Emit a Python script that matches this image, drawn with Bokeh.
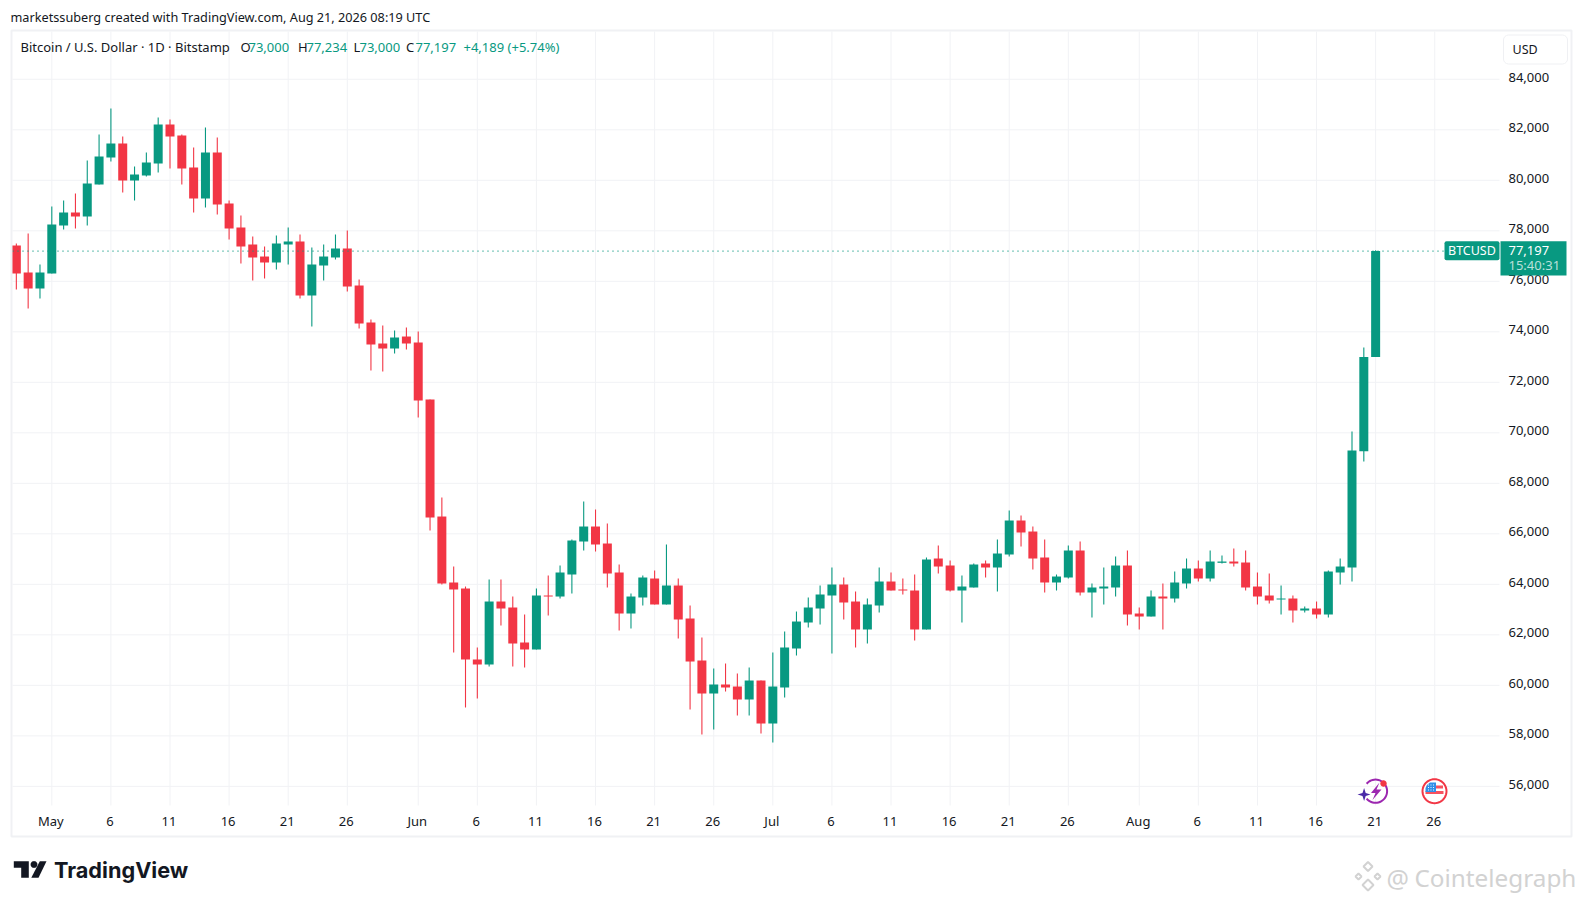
import numpy as np
from bokeh.embed import file_html
from bokeh.resources import INLINE
from bokeh.plotting import figure
from bokeh.models import (ColumnDataSource, FixedTicker, Label, BoxAnnotation, PolyAnnotation, Range1d)

# Day index: 0 = 1 May
days = list(range(-3, 113))
opens = [77420,76350,75720,76310,78210,78725,78566,79834,80903,81457,79992,80190,80665,82210,81774,80507,79279,81101,79081,78131,77458,76982,76745,77458,77576,75438,76626,76943,77299,75834,74369,73537,73339,73814,73577,71320,66686,64073,63835,61024,60826,63320,63083,61697,61420,63558,63518,64390,65696,66290,65617,64469,62845,63479,64231,63202,63954,62647,60984,59677,60034,59954,59440,60192,58489,59915,61459,62489,63043,63558,63994,63320,62212,63162,64112,63796,63756,62212,65023,64746,63756,63875,64825,64667,65182,66528,66092,65063,64073,64271,65340,63677,63835,63875,64746,62845,62726,63518,63439,64033,64627,64231,64852,64904,64865,63914,63558,63400,63439,62964,63043,62806,64469,64667,69274,73000]
highs = [77500,77890,76670,78960,79200,79477,80784,81814,82843,81734,80546,81101,82487,82408,81814,81299,82091,81695,79200,78606,77774,77378,77814,78131,77854,77339,77458,77854,78012,76072,74488,74250,74052,74171,74012,71320,67439,64706,63914,61499,64192,64192,63518,62806,63835,64350,64746,65776,67280,66964,66409,64786,63637,64350,64548,65578,64231,63162,61895,60667,60865,60469,60707,60192,61301,62132,62924,63479,63954,64667,64271,63716,63439,64667,64469,64231,64390,65063,65538,64944,64350,64825,64944,65776,66924,66726,66290,65776,64390,65538,65696,64033,64667,65102,65340,63083,63756,64033,64508,65023,64944,65340,65142,65419,65340,64469,64429,63954,63558,63122,63320,64548,65023,70052,73379,77234]
lows = [75680,74920,75320,76310,78050,78091,78210,79834,80744,79517,79200,80150,80309,80467,79834,78725,78923,78646,77656,76705,76032,76111,76468,76666,75319,74210,76032,76864,75596,74131,72468,72428,73141,73300,70607,66132,63994,61301,59123,59479,60746,62370,60746,60707,61420,62766,63439,63637,65340,65300,63875,62172,62251,63162,63202,63202,61855,59044,58054,58252,59756,58806,58806,58093,57737,59519,61182,62291,62410,61261,62608,61499,61657,62885,63756,63598,61776,62212,64429,63716,62489,63875,64271,63716,65102,65498,64588,63677,63756,64231,63558,62687,63202,63518,62370,62212,62726,62212,63281,63835,64112,64112,64825,64706,63756,63202,63241,62806,62489,62885,62647,62687,63994,64112,68860,73000]
closes = [76310,75720,76350,78250,78725,78566,79873,80942,81457,79992,80230,80705,82210,81734,80467,79279,81101,79042,78091,77378,76943,76745,77497,77576,75438,76666,76982,77299,75794,74329,73498,73339,73775,73537,71280,66647,64033,63796,61024,60826,63320,63043,61657,61420,63558,63518,64469,65736,66290,65578,64429,62845,63518,64271,63202,63954,62608,60944,59677,60034,59915,59440,60192,58489,59954,61499,62528,63083,63598,63994,63281,62212,63202,64112,63756,63756,62212,64984,64706,63756,63914,64786,64667,65221,66528,66053,65023,64073,64310,65340,63677,63875,63914,64746,62806,62726,63518,63439,64073,64627,64231,64904,64904,64825,63875,63518,63360,63439,62964,63043,62806,64508,64706,69300,73000,77197]

x_ticks = [0,5,10,15,20,25,31,36,41,46,51,56,61,66,71,76,81,86,92,97,102,107,112,117]
x_labels = ["May","6","11","16","21","26","Jun","6","11","16","21","26","Jul","6","11","16","21","26","Aug","6","11","16","21","26"]
y_ticks = list(range(56000, 84001, 2000))
last_price = 77197

GREEN = "#089981"
RED = "#F23645"
INK = "#131722"
GRID = "#f1f2f5"
FONT = "Noto Sans"
W, H = 1582, 902

# The frame fills the canvas, so every piece of chrome can be placed in it.
PX_PER_DAY = 11.82
PRICE_PER_PX = 39.6


def day_at(px):
    return (px - 51.3) / PX_PER_DAY


def price_at(py):
    return 82000 - (py - 129.3) * PRICE_PER_PX


PANE_L, PANE_R, PANE_T, PANE_B = day_at(12), day_at(1499), price_at(31), price_at(805)

p = figure(width=W, height=H, output_backend="svg", toolbar_location=None,
           x_range=Range1d(day_at(0), day_at(W)), y_range=Range1d(price_at(H), price_at(0)),
           y_axis_location="right", min_border=0, min_border_left=0, min_border_right=0,
           min_border_top=0, min_border_bottom=0,
           background_fill_color="white", border_fill_color="white")
p.outline_line_color = None
p.grid.visible = False

# Scale labels sit slightly off their grid lines in the reference
p.extra_y_ranges["labels"] = Range1d(price_at(H + 2), price_at(2))
p.extra_x_ranges["labels"] = Range1d(day_at(1), day_at(W + 1))

for ax in (p.xaxis[0], p.yaxis[0]):
    ax.axis_line_color = None
    ax.major_tick_line_color = None
    ax.minor_tick_line_color = None
    ax.major_label_text_font = FONT
    ax.major_label_text_font_size = "13px"
    ax.major_label_text_color = INK
p.xaxis[0].ticker = FixedTicker(ticks=x_ticks)
p.xaxis[0].major_label_overrides = {t: l for t, l in zip(x_ticks, x_labels)}
p.xaxis[0].major_label_standoff = 0
p.xaxis[0].fixed_location = PANE_B
p.xaxis[0].x_range_name = "labels"
p.yaxis[0].ticker = FixedTicker(ticks=y_ticks)
p.yaxis[0].major_label_overrides = {t: f"{t:,}" for t in y_ticks}
p.yaxis[0].major_label_standoff = 3
p.yaxis[0].fixed_location = PANE_R
p.yaxis[0].y_range_name = "labels"

# Grid, limited to the pane
p.segment(x_ticks, [PANE_B] * len(x_ticks), x_ticks, [PANE_T] * len(x_ticks), line_color=GRID, line_width=1)
p.segment([PANE_L] * len(y_ticks), y_ticks, [PANE_R] * len(y_ticks), y_ticks, line_color=GRID, line_width=1)

colors = [GREEN if c >= o else RED for o, c in zip(opens, closes)]
src = ColumnDataSource(dict(x=days, o=opens, h=highs, l=lows, c=closes,
                            top=[max(a, b) for a, b in zip(opens, closes)],
                            bot=[min(a, b) for a, b in zip(opens, closes)], color=colors))
p.segment("x", "h", "x", "l", source=src, line_color="color", line_width=1.1)
p.vbar("x", 9 / PX_PER_DAY, "bot", "top", source=src, fill_color="color", line_color=None)

# Last price line
p.segment([PANE_L], [last_price], [day_at(1444)], [last_price], line_color=GREEN, line_width=1.3, line_dash="1 4")


def label(px, py, text, size=12, color=INK, align="left", style="normal", font=FONT, alpha=1.0):
    p.add_layout(Label(x=px, y=py, x_units="canvas", y_units="canvas", text=text,
                       text_font=font, text_font_size=f"{size}px", text_color=color, text_alpha=alpha,
                       text_align=align, text_baseline="middle", text_font_style=style, level="overlay"))


def box(l, r, t, b, fill=None, line=None, lw=1, radius=0):
    p.add_layout(BoxAnnotation(left=l, right=r, top=t, bottom=b,
                               left_units="canvas", right_units="canvas", top_units="canvas", bottom_units="canvas",
                               fill_color=fill, fill_alpha=1 if fill else 0,
                               line_color=line, line_alpha=1 if line else 0, line_width=lw,
                               border_radius=radius, level="overlay"))


def poly(pts, fill=None, line=None, lw=1, alpha=1.0):
    pts = np.asarray(pts, float)
    p.add_layout(PolyAnnotation(xs=list(pts[:, 0]), ys=list(pts[:, 1]),
                                xs_units="canvas", ys_units="canvas",
                                fill_color=fill, fill_alpha=alpha if fill else 0,
                                line_color=line, line_alpha=1 if line else 0, line_width=lw, level="overlay"))


def disc(cx, cy, r, fill=None, line=None, lw=1, alpha=1.0):
    t = np.linspace(0, 2 * np.pi, 48, endpoint=False)
    poly(np.c_[cx + r * np.cos(t), cy + r * np.sin(t)], fill, line, lw, alpha)


def arc(cx, cy, r0, r1, a0, a1, fill):
    t = np.radians(np.linspace(a0, a1, 40))
    outer = np.c_[cx + r1 * np.cos(t), cy + r1 * np.sin(t)]
    inner = np.c_[cx + r0 * np.cos(t), cy + r0 * np.sin(t)][::-1]
    poly(np.r_[outer, inner], fill)


# Trim the first candle at the pane edge, then the pane border
box(0, 11, 31, 805, "white")
box(11, 1571, 30, 836, None, "#f0f1f4", 2)

# Header
label(10, 16, "marketssuberg created with TradingView.com, Aug 21, 2026 08:19 UTC", 12.7)
label(20, 46.7, "Bitcoin / U.S. Dollar · 1D · Bitstamp", 13)
for px, tx in [(240, "O"), (297.5, "H"), (353, "L"), (405.5, "C")]:
    label(px, 46.7, tx, 13)
for px, tx in [(248, "73,000"), (306, "77,234"), (359, "73,000"), (415, "77,197"), (463, "+4,189 (+5.74%)")]:
    label(px, 46.7, tx, 13, GREEN)

# Currency button
box(1503, 1567, 34.5, 63.5, "white", "#eff0f3", 1, 5)
label(1512, 48.5, "USD", 12.5)

# Last price tags
box(1444, 1499, 240.7, 259.7, GREEN, None, 1, 2)
label(1447.5, 250, "BTCUSD", 12.5, "white")
box(1500, 1566, 240.7, 275, GREEN)
label(1508, 249.7, "77,197", 13, "white")
label(1508, 264, "15:40:31", 13, "white", alpha=0.72)

# Event icons on the time scale
arc(1375, 790.7, 10.6, 12.6, -140, 140, "#9c27b0")
poly([(1379, 782), (1370.5, 792.5), (1375, 792.5), (1372, 799.5), (1381, 789), (1376, 789)], "#9c27b0")
poly([(1363.6, 787.5), (1365.2, 792.4), (1370, 794), (1365.2, 795.6), (1363.6, 800.5), (1362, 795.6), (1357, 794), (1362, 792.4)], "#4a2aa8")
disc(1383, 783, 3.2, RED)

disc(1434, 790.7, 12, "white", RED, 2)
poly([(1426, 785), (1442.5, 785), (1442.5, 788), (1426, 788)], "#f7525f")
poly([(1425, 790.5), (1443, 790.5), (1443, 793.5), (1425, 793.5)], "#f7525f")
poly([(1427, 784), (1429.5, 782), (1435.5, 782), (1435.5, 791.5), (1425, 791.5), (1425, 787.5)], "#2f8fe8")
for dx in (1428, 1430.5, 1433):
    for dy in (784.5, 787, 789.5):
        disc(dx, dy, 0.55, "white")

# TradingView logo
poly([(13.3, 860.7), (28.3, 860.7), (28.3, 877.3), (20.7, 877.3), (20.7, 867.3), (13.3, 867.3)], INK)
disc(33.5, 864, 3.4, INK)
poly([(39.3, 860.7), (46, 860.7), (38, 877.3), (30.8, 877.3)], INK)
label(53.5, 869.5, "TradingView", 21.7, INK, style="bold", font="Inter")

# Watermark
WM = "#d2d2d2"
for (cx, cy, r) in [(1367.5, 866, 4.5), (1358, 876, 3), (1377, 876, 3), (1367.5, 884.5, 5.5)]:
    poly([(cx, cy - r), (cx + r, cy), (cx, cy + r), (cx - r, cy)], None, WM, 2)
label(1386, 877, "@", 25, WM)
label(1414, 877, "Cointelegraph", 24.3, WM)

open("out.html", "w").write(file_html(p, INLINE))
